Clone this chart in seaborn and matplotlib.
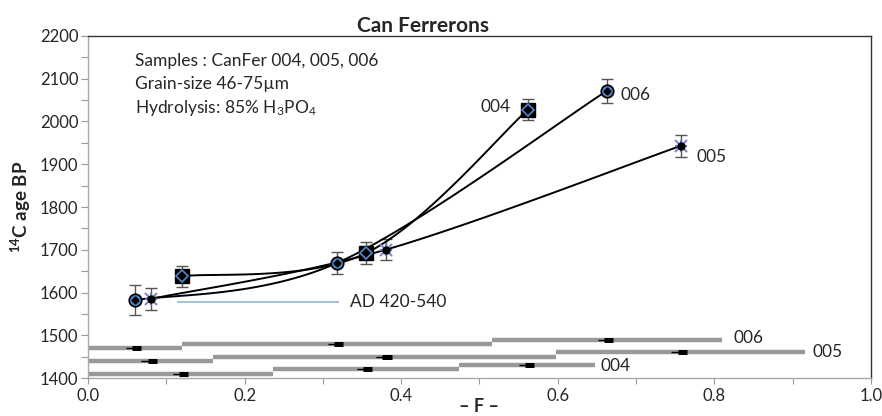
import numpy as np
import pandas as pd
import matplotlib
matplotlib.use("Agg")
import matplotlib.pyplot as plt
import seaborn as sns

# ---------------- data ----------------
samples = ["004", "005", "006"]
f_004 = [0.12, 0.355, 0.562]
age_004 = [1638, 1692, 2028]
err_004 = [25, 25, 25]
f_005 = [0.08, 0.38, 0.757]
age_005 = [1585, 1700, 1943]
err_005 = [25, 25, 25]
f_006 = [0.06, 0.318, 0.663]
age_006 = [1582, 1669, 2072]
err_006 = [35, 25, 28]

# cumulative fraction intervals (gray bars) and their y levels
edges_004 = [0.0, 0.236, 0.474, 0.648]
levels_004 = [1410, 1420, 1430]
edges_005 = [0.0, 0.160, 0.598, 0.916]
levels_005 = [1440, 1450, 1460]
edges_006 = [0.0, 0.120, 0.516, 0.810]
levels_006 = [1470, 1480, 1490]

ad_range_f = [0.114, 0.321]
ad_range_age = 1577
ad_label = "AD 420-540"

title = "Can Ferrerons"
info_lines = ["Samples : CanFer 004, 005, 006",
              "Grain-size 46-75\u00b5m",
              r"Hydrolysis: 85% H$_3$PO$_4$"]

# ---------------- style ----------------
sns.set_theme(style="white")
plt.rcParams['font.family'] = ['Lato', 'DejaVu Sans']
plt.rcParams['mathtext.fontset'] = 'custom'
plt.rcParams['mathtext.rm'] = 'Lato'
plt.rcParams['mathtext.it'] = 'Lato:italic'
plt.rcParams['mathtext.bf'] = 'Lato:bold'

FS = 12.5

fig = plt.figure(figsize=(8.82, 4.16), dpi=100)
ax = fig.add_axes([0.0998, 0.0913, 0.8877, 0.8222])
XMIN, XMAX, YMIN, YMAX = 0.0, 1.0, 1400, 2200
ax.set_xlim(XMIN, XMAX)
ax.set_ylim(YMIN, YMAX)

# axes size in pixels for screen-space smoothing
W_PX, H_PX = 783.0, 342.0


def smooth_curve(xs, ys, n=60):
    """Excel-like smoothed line (Bezier with Catmull-Rom control points) in screen space."""
    px = (np.asarray(xs) - XMIN) / (XMAX - XMIN) * W_PX
    py = (np.asarray(ys) - YMIN) / (YMAX - YMIN) * H_PX
    P = np.column_stack([px, py])
    out = []
    for i in range(len(P) - 1):
        p0 = P[i - 1] if i > 0 else P[i]
        p1 = P[i]
        p2 = P[i + 1]
        p3 = P[i + 2] if i + 2 < len(P) else P[i + 1]
        c1 = p1 + (p2 - p0) / 6.0
        c2 = p2 - (p3 - p1) / 6.0
        t = np.linspace(0, 1, n)[:, None]
        seg = ((1 - t) ** 3) * p1 + 3 * ((1 - t) ** 2) * t * c1 + 3 * (1 - t) * t ** 2 * c2 + t ** 3 * p2
        out.append(seg if i == 0 else seg[1:])
    C = np.vstack(out)
    cx = C[:, 0] / W_PX * (XMAX - XMIN) + XMIN
    cy = C[:, 1] / H_PX * (YMAX - YMIN) + YMIN
    return cx, cy


series = {
    "004": (f_004, age_004, err_004),
    "005": (f_005, age_005, err_005),
    "006": (f_006, age_006, err_006),
}

# smoothed connecting lines
for name, (fx, ay, er) in series.items():
    cx, cy = smooth_curve(fx, ay)
    df = pd.DataFrame({"F": cx, "age": cy})
    sns.lineplot(data=df, x="F", y="age", sort=False, estimator=None,
                 color="black", lw=1.4, ax=ax, zorder=3)

# error bars
for name, (fx, ay, er) in series.items():
    ax.errorbar(fx, ay, yerr=er, fmt="none", ecolor="#555555", elinewidth=1.0,
                capsize=4, capthick=1.0, zorder=2)

blue = "#4f81bd"
# 004: black square + blue diamond + black centre
ax.plot(f_004, age_004, ls="none", marker="s", ms=10, mfc="black", mec="black", zorder=5)
ax.plot(f_004, age_004, ls="none", marker="D", ms=6.5, mfc="black", mec=blue, mew=1.3, zorder=6)
# 006: blue circle with black edge + black diamond
ax.plot(f_006, age_006, ls="none", marker="o", ms=9, mfc=blue, mec="black", mew=1.2, zorder=5)
ax.plot(f_006, age_006, ls="none", marker="D", ms=3.5, mfc="black", mec="black", zorder=6)
# 005: blue star + black dot
ax.plot(f_005, age_005, ls="none", marker="x", ms=8, mec="#8a7fd0", mew=1.5, zorder=5)
ax.plot(f_005, age_005, ls="none", marker="+", ms=8, mec=blue, mew=1.5, zorder=5)
ax.plot(f_005, age_005, ls="none", marker="o", ms=5, mfc="black", mec="black", zorder=6)

# bottom fraction bars
bars = {"004": (edges_004, levels_004, f_004),
        "005": (edges_005, levels_005, f_005),
        "006": (edges_006, levels_006, f_006)}
for name, (edges, levels, fx) in bars.items():
    for j in range(len(levels)):
        ax.hlines(levels[j], edges[j], edges[j + 1], color="#999999", lw=3.2, zorder=2)
        ax.hlines(levels[j], fx[j] - 0.012, fx[j], color="black", lw=1.0, zorder=3)
        ax.hlines(levels[j], fx[j] - 0.004, fx[j] + 0.008, color="black", lw=3.6, zorder=3)

# bar labels
ax.text(0.825, levels_006[-1] + 4, "006", fontsize=FS, ha="left", va="center")
ax.text(0.925, levels_005[-1], "005", fontsize=FS, ha="left", va="center")
ax.text(0.655, levels_004[-1] - 2, "004", fontsize=FS, ha="left", va="center")

# curve labels
ax.text(0.54, 2034, "004", fontsize=FS, ha="right", va="center")
ax.text(0.680, 2062, "006", fontsize=FS, ha="left", va="center")
ax.text(0.777, 1916, "005", fontsize=FS, ha="left", va="center")

# AD range
ax.hlines(ad_range_age, ad_range_f[0], ad_range_f[1], color="#9dbbe0", lw=1.3, zorder=1)
ax.text(0.335, ad_range_age, ad_label, fontsize=FS, ha="left", va="center")

# info block
for k, line in enumerate(info_lines):
    ax.text(0.06, 2142 - k * 55, line, fontsize=FS, ha="left", va="center")

# axes decoration
ax.set_title(title, fontsize=15, fontweight="bold", pad=3, x=0.428)
ax.set_ylabel(r"$\mathbf{^{14}}$C age BP", fontsize=13.5, fontweight="bold", labelpad=5)
ax.set_xlabel("\u2013 F \u2013", fontsize=13, fontweight="bold", labelpad=-4)
ax.set_xticks([0.0, 0.2, 0.4, 0.6, 0.8, 1.0])
ax.set_xticklabels(["0.0", "0.2", "0.4", "0.6", "0.8", "1.0"])
ax.set_xticks(np.arange(0.1, 1.0, 0.2), minor=True)
ax.set_yticks(np.arange(1400, 2201, 100))
ax.set_yticks(np.arange(1450, 2200, 100), minor=True)
ax.tick_params(axis="both", which="both", direction="out", color="#999999", labelsize=12)
ax.tick_params(axis="x", which="both", length=4, width=0.8, pad=3)
ax.tick_params(axis="y", which="both", length=5, width=0.8, pad=2)
ax.tick_params(axis="both", which="both", bottom=True, left=True)
for side in ["top", "right"]:
    ax.spines[side].set_color("#333333")
    ax.spines[side].set_linewidth(1.0)
for side in ["bottom", "left"]:
    ax.spines[side].set_color("#aaaaaa")
    ax.spines[side].set_linewidth(1.0)
ax.grid(False)

fig.savefig("out.png", dpi=100)
